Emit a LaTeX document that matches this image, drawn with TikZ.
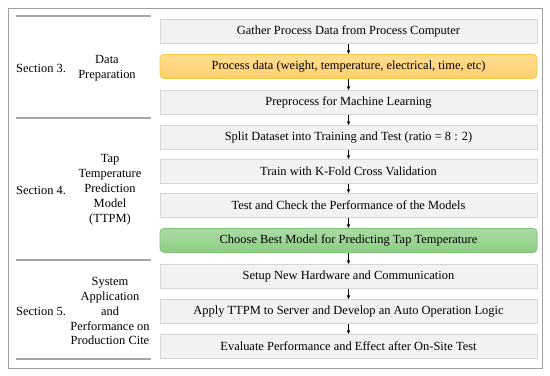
\documentclass[tikz,border=0pt]{standalone}
\usepackage{fontspec}
\setmainfont{Liberation Serif}
\usetikzlibrary{arrows.meta}
\definecolor{boxfill}{HTML}{F2F2F2}
\definecolor{boxline}{HTML}{D6D6D6}
\definecolor{ytop}{HTML}{FFDC90}
\definecolor{ybot}{HTML}{FFD06E}
\definecolor{yline}{HTML}{F5C842}
\definecolor{gtop}{HTML}{ABDAA4}
\definecolor{gbot}{HTML}{8CCF83}
\definecolor{gline}{HTML}{7CC474}
\definecolor{sepline}{HTML}{A6A6A6}
\definecolor{frameline}{HTML}{A0A0A0}
\begin{document}
\begin{tikzpicture}[x=1bp,y=-1bp,
  every node/.style={font=\fontsize{12.5}{15}\selectfont, inner sep=0pt},
  stepbox/.style={draw=boxline, fill=boxfill, line width=0.8bp, minimum width=377bp, minimum height=24bp, anchor=north},
  ybox/.style={stepbox, draw=yline, top color=ytop, bottom color=ybot, rounded corners=4bp},
  gbox/.style={stepbox, draw=gline, top color=gtop, bottom color=gbot, rounded corners=4bp},
  flow/.style={-{Stealth[length=4bp,width=3.5bp]}, line width=0.6bp, black},
  sep/.style={draw=sepline, line width=1.8bp},
  lbl/.style={align=center}
]
\useasboundingbox (0,0) rectangle (550,375);
\draw[frameline, line width=0.8bp] (8,8) rectangle (542,368);
% separators
\draw[sep] (16,16) -- (151,16);
\draw[sep] (16,118) -- (151,118);
\draw[sep] (16,260) -- (151,260);
\draw[sep] (16,359) -- (151,359);
% section labels
\node[anchor=west] (s3) at (16,68) {Section 3.};
\node[lbl] (l3) at (107,68) {Data\\Preparation};
\node[anchor=west] (s4) at (16,190) {Section 4.};
\node[lbl] (l4) at (110,190) {Tap\\Temperature\\Prediction\\Model\\(TTPM)};
\node[anchor=west] (s5) at (16,311) {Section 5.};
\node[lbl] (l5) at (110,311) {System\\Application\\and\\Performance on\\Production Cite};
% boxes
\node[stepbox] (b1) at (348.5,19) {Gather Process Data from Process Computer};
\node[ybox] (b2) at (348.5,54) {Process data (weight, temperature, electrical, time, etc)};
\node[stepbox] (b3) at (348.5,90) {Preprocess for Machine Learning};
\node[stepbox] (b4) at (348.5,125) {Split Dataset into Training and Test (ratio = 8 : 2)};
\node[stepbox] (b5) at (348.5,159) {Train with K-Fold Cross Validation};
\node[stepbox] (b6) at (348.5,193) {Test and Check the Performance of the Models};
\node[gbox] (b7) at (348.5,228) {Choose Best Model for Predicting Tap Temperature};
\node[stepbox] (b8) at (348.5,264) {Setup New Hardware and Communication};
\node[stepbox] (b9) at (348.5,299) {Apply TTPM to Server and Develop an Auto Operation Logic};
\node[stepbox] (b10) at (348.5,334) {Evaluate Performance and Effect after On-Site Test};
\foreach \a/\b in {b1/b2,b2/b3,b3/b4,b4/b5,b5/b6,b6/b7,b7/b8,b8/b9,b9/b10}
  \draw[flow] (\a.south) -- (\b.north);
\end{tikzpicture}
\end{document}
